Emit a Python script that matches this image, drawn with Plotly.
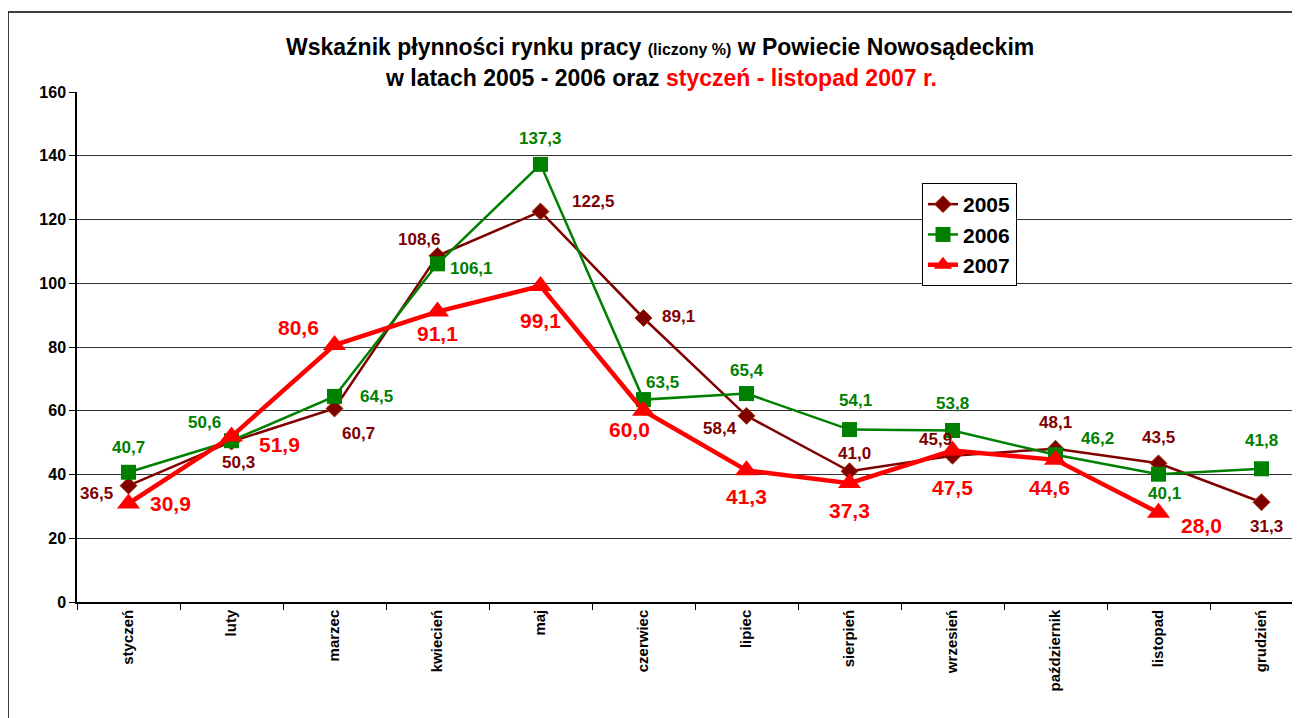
"""Wskaźnik płynności rynku pracy - Powiat Nowosądecki 2005-2007."""

import plotly.graph_objects as go

# Dane
miesiace = ['styczeń', 'luty', 'marzec', 'kwiecień', 'maj', 'czerwiec', 'lipiec',
            'sierpień', 'wrzesień', 'październik', 'listopad', 'grudzień']
wsk_2005 = [36.5, 50.3, 60.7, 108.6, 122.5, 89.1, 58.4, 41.0, 45.9, 48.1, 43.5, 31.3]
wsk_2006 = [40.7, 50.6, 64.5, 106.1, 137.3, 63.5, 65.4, 54.1, 53.8, 46.2, 40.1, 41.8]
wsk_2007 = [30.9, 51.9, 80.6, 91.1, 99.1, 60.0, 41.3, 37.3, 47.5, 44.6, 28.0]

# Przesunięcia etykiet (px): (dx, dy w dół)
off_2005 = [(-32, 8), (7, 21), (24, 25), (-18, -16), (53, -10), (35, -1), (-27, 13),
            (5, -18), (-17, -16), (0, -26), (0, -26), (5, 24)]
off_2006 = [(0, -25), (-27, -18), (42, 0), (34, 5), (0, -26), (19, -17), (0, -23),
            (6, -29), (0, -27), (42, -16), (6, 19), (0, -28)]
off_2007 = [(42, 0), (48, 8), (-36, -18), (0, 22), (0, 34), (-14, 19), (0, 26),
            (0, 27), (0, 37), (-6, 28), (43, 13)]

C_2005 = '#800000'
C_2006 = '#008000'
C_2007 = '#FF0000'
FONT = 'Arial, Liberation Sans, sans-serif'

# Geometria (px w oknie przeglądarki; strona ma margines 8 px)
L, T, B, R = 77, 92, 602, 1300
W, H = 1292, 710


def px_x(px):
    return (px - L) / (R - L)


def px_y(py):
    return (B - py) / (B - T)


fig = go.Figure()

fig.add_trace(go.Scatter(
    x=miesiace, y=wsk_2005, name='2005', mode='lines+markers',
    line=dict(color=C_2005, width=2.5),
    marker=dict(symbol='diamond', size=13, color=C_2005, line=dict(color='#993300', width=1))
))
fig.add_trace(go.Scatter(
    x=miesiace, y=wsk_2006, name='2006', mode='lines+markers',
    line=dict(color=C_2006, width=2.5),
    marker=dict(symbol='square', size=15, color=C_2006)
))
fig.add_trace(go.Scatter(
    x=miesiace[:len(wsk_2007)], y=wsk_2007, name='2007', mode='lines+markers',
    line=dict(color=C_2007, width=4.5),
    marker=dict(symbol='triangle-up', size=20, color=C_2007)
))

# Etykiety danych
adnotacje = []
for wartosci, przes, kolor, rozm in [(wsk_2005, off_2005, C_2005, 17),
                                     (wsk_2006, off_2006, C_2006, 17),
                                     (wsk_2007, off_2007, C_2007, 21)]:
    for m, v, (dx, dy) in zip(miesiace, wartosci, przes):
        adnotacje.append(dict(
            x=m, y=v, text=f'<b>{v:.1f}</b>'.replace('.', ','), showarrow=False,
            xshift=dx, yshift=-dy, font=dict(family=FONT, size=rozm, color=kolor)
        ))

# Tytuł
adnotacje.append(dict(
    xref='paper', yref='paper', x=px_x(660), y=px_y(47), xanchor='center', yanchor='middle',
    text='<b>Wskaźnik płynności rynku pracy <span style="font-size:16px">(liczony %)</span>'
         ' w Powiecie Nowosądeckim</b>',
    showarrow=False, font=dict(family=FONT, size=23, color='black')
))
adnotacje.append(dict(
    xref='paper', yref='paper', x=px_x(661), y=px_y(78), xanchor='center', yanchor='middle',
    text='<b>w latach 2005 - 2006 oraz <span style="color:#FF0000">styczeń - listopad 2007 r.</span></b>',
    showarrow=False, font=dict(family=FONT, size=23, color='black')
))

fig.update_layout(
    width=W, height=H,
    margin=dict(l=L - 8, r=0, t=T - 8, b=H - (B - 8)),
    paper_bgcolor='white', plot_bgcolor='white',
    font=dict(family=FONT, color='black'),
    annotations=adnotacje,
    showlegend=True,
    legend=dict(
        x=px_x(922), y=px_y(183), xanchor='left', yanchor='top',
        bgcolor='white', bordercolor='black', borderwidth=1,
        font=dict(family=FONT, size=21, color='black', weight='bold'),
        tracegroupgap=0, entrywidth=100
    ),
    shapes=[dict(
        type='rect', xref='paper', yref='paper',
        x0=px_x(8), y0=px_y(740), x1=px_x(1320), y1=px_y(12),
        line=dict(color='black', width=1.5), layer='above'
    )]
)

fig.update_xaxes(
    type='category', range=[-0.5, -0.5 + (R - L) / 103],
    tickson='boundaries', ticks='outside', ticklen=6, tickcolor='black',
    tickangle=-90, tickfont=dict(family=FONT, size=15, color='black', weight='bold'),
    showline=True, linecolor='black', linewidth=1.5, showgrid=False
)
fig.update_yaxes(
    range=[0, 160], dtick=20, ticks='outside', ticklen=6, tickcolor='black',
    tickfont=dict(family=FONT, size=16, color='black', weight='bold'),
    showline=True, linecolor='black', linewidth=1.5,
    showgrid=True, gridcolor='#333333', gridwidth=1, zeroline=False
)

fig.write_html("out.html")
